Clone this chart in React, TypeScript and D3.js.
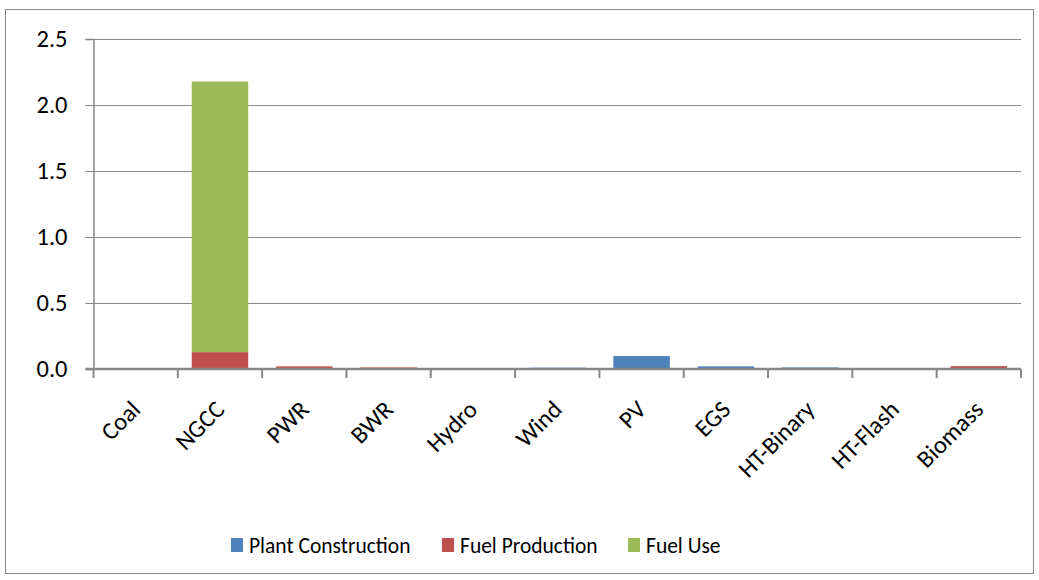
import React, { useEffect, useRef } from 'react';
import * as d3 from 'd3';

const categories = ['Coal', 'NGCC', 'PWR', 'BWR', 'Hydro', 'Wind', 'PV', 'EGS', 'HT-Binary', 'HT-Flash', 'Biomass'];
const seriesNames = ['Plant Construction', 'Fuel Production', 'Fuel Use'];
const seriesColors = ['#4f81bd', '#c0504d', '#9bbb59'];
const plantConstruction = [0, 0, 0, 0, 0, 0.01, 0.098, 0.02, 0.012, 0, 0];
const fuelProduction = [0, 0.128, 0.02, 0.012, 0, 0, 0, 0, 0, 0, 0.022];
const fuelUse = [0, 2.05, 0, 0, 0, 0, 0, 0, 0, 0, 0];
const yTicks = [0, 0.5, 1.0, 1.5, 2.0, 2.5];

const App = () => {
  const svgRef = useRef<SVGSVGElement>(null);

  useEffect(() => {
    const W = 1039;
    const H = 580;
    const margin = { top: 39, right: 18, bottom: 211, left: 93.5 };
    const width = W - margin.left - margin.right;
    const height = H - margin.top - margin.bottom;
    const font = 'Carlito, "Open Sans", "Noto Sans", sans-serif';
    const axisFs = '24.5px';
    const legendFs = '21.5px';

    const root = d3.select(svgRef.current).attr('width', W).attr('height', H).html('');

    // outer frame
    root.append('rect')
      .attr('x', 5.5).attr('y', 9.5)
      .attr('width', 1028).attr('height', 564)
      .attr('fill', '#fff').attr('stroke', '#888');

    const svg = root.append('g').attr('transform', `translate(${margin.left},${margin.top})`);

    const x = d3.scaleBand().domain(categories).range([0, width]).paddingInner(0.33).paddingOuter(0.165);
    const y = d3.scaleLinear().domain([0, 2.5]).range([height, 0]);

    // grid
    svg.append('g')
      .selectAll('line')
      .data(yTicks.slice(1))
      .join('line')
      .attr('x1', -8).attr('x2', width)
      .attr('y1', d => Math.round(y(d)) + 0.5).attr('y2', d => Math.round(y(d)) + 0.5)
      .attr('stroke', '#888').attr('stroke-width', 1);

    // stacked bars
    const rows = categories.map((c, i) => ({
      cat: c,
      'Plant Construction': plantConstruction[i],
      'Fuel Production': fuelProduction[i],
      'Fuel Use': fuelUse[i],
    }));
    const stacked = d3.stack<any>().keys(seriesNames)(rows);
    svg.append('g')
      .selectAll('g')
      .data(stacked)
      .join('g')
      .attr('fill', (_d, i) => seriesColors[i])
      .selectAll('rect')
      .data(d => d)
      .join('rect')
      .attr('x', d => x(d.data.cat)!)
      .attr('width', x.bandwidth())
      .attr('y', d => y(d[1]))
      .attr('height', d => y(d[0]) - y(d[1]));

    // y axis
    const yAxis = d3.axisLeft(y).tickValues(yTicks).tickFormat(d3.format('.1f')).tickSize(8).tickPadding(18);
    const gy = svg.append('g').call(yAxis);
    gy.select('.domain').attr('stroke', '#888').attr('stroke-width', 1.5);
    gy.selectAll('.tick line').attr('stroke', '#888');
    gy.selectAll('text').style('font-family', font).style('font-size', axisFs).attr('fill', '#000');

    // x axis
    const gx = svg.append('g').attr('transform', `translate(0,${height})`);
    gx.append('line').attr('x1', -8).attr('x2', width).attr('stroke', '#888').attr('stroke-width', 2.5);
    const tickPos = d3.range(categories.length + 1).map(i => (i * width) / categories.length);
    gx.selectAll('line.tk')
      .data(tickPos)
      .join('line')
      .attr('class', 'tk')
      .attr('x1', d => d).attr('x2', d => d)
      .attr('y1', 0).attr('y2', 9)
      .attr('stroke', '#888').attr('stroke-width', 2);
    gx.selectAll('text')
      .data(categories)
      .join('text')
      .attr('text-anchor', 'end')
      .attr('transform', d => `translate(${x(d)! + x.bandwidth() / 2 + 6},${42}) rotate(-45)`)
      .style('font-family', font)
      .style('font-size', axisFs)
      .attr('fill', '#000')
      .text(d => d);

    // legend
    const legendX = [231, 442, 628];
    const lg = root.append('g').attr('transform', 'translate(0,545)');
    const items = lg.selectAll('g').data(seriesNames).join('g')
      .attr('transform', (_d, i) => `translate(${legendX[i]},0)`);
    items.append('rect').attr('x', 0).attr('y', -7).attr('width', 12).attr('height', 14)
      .attr('fill', (_d, i) => seriesColors[i]);
    items.append('text').attr('x', 18).attr('y', 8)
      .style('font-family', font).style('font-size', legendFs).attr('fill', '#000')
      .text(d => d);
  }, []);

  return (
    <svg ref={svgRef} style={{ position: 'absolute', left: 0, top: 0 }}></svg>
  );
};

export default App;
